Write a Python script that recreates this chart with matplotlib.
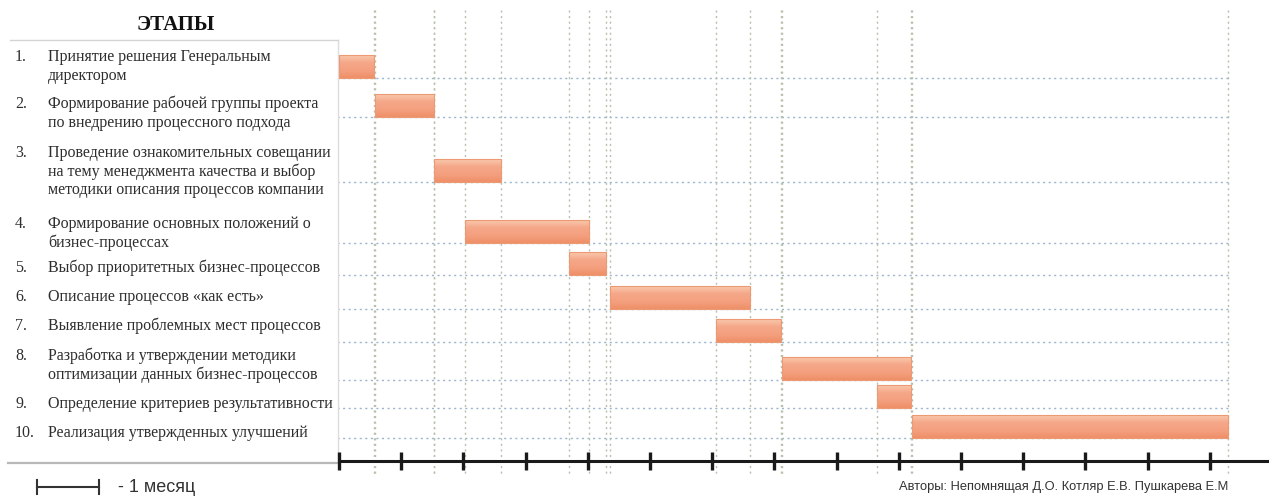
import numpy as np
import matplotlib.pyplot as plt

# --- data -------------------------------------------------------------
title = "ЭТАПЫ"
stage_nums = ["1.", "2.", "3.", "4.", "5.", "6.", "7.", "8.", "9.", "10."]
stage_labels = [
    "Принятие решения Генеральным\nдиректором",
    "Формирование рабочей группы проекта\nпо внедрению процессного подхода",
    "Проведение ознакомительных совещании\nна тему менеджмента качества и выбор\nметодики описания процессов компании",
    "Формирование основных положений о\nбизнес-процессах",
    "Выбор приоритетных бизнес-процессов",
    "Описание процессов «как есть»",
    "Выявление проблемных мест процессов",
    "Разработка и утверждении методики\nоптимизации данных бизнес-процессов",
    "Определение критериев результативности",
    "Реализация утвержденных улучшений",
]
# start / end of each stage, in months from project start
start_month = [0.0, 0.58, 1.52, 2.02, 3.70, 4.36, 6.06, 7.12, 8.65, 9.22]
end_month = [0.57, 1.53, 2.60, 4.02, 4.30, 6.60, 7.10, 9.20, 9.20, 14.30]
n_months = 14
scale_label = "- 1 месяц"
authors = "Авторы: Непомнящая Д.О. Котляр Е.В. Пушкарева Е.М"

# --- layout (pixels) --------------------------------------------------
W, H = 1269, 499
X0 = 339            # pixel of month 0
PX_PER_MONTH = 62.2
row_bottom = [78, 117, 182, 243, 275, 309, 342, 380, 408, 438]
text_top = [57, 104, 153, 224, 268, 297, 326, 356, 404, 433]
line_step = 18.5
bar_h = 23
axis_y = 461

serif = "Liberation Serif"
sans = "Liberation Sans"
txt_col = "#2e2e2e"

fig = plt.figure(figsize=(W / 100, H / 100), dpi=100)
fig.patch.set_facecolor("white")

# left table / free layout in pixel coords
axL = fig.add_axes([0, 0, 1, 1])
axL.set_xlim(0, W)
axL.set_ylim(H, 0)
axL.axis("off")

axL.text(176, 25, title, family=serif, fontsize=15, fontweight="bold",
         ha="center", va="center", color="#111111")
axL.plot([10, 338], [40, 40], color="#d4d4d4", lw=1)
axL.plot([338, 338], [40, 462], color="#dcdcdc", lw=1)
axL.plot([8, 339], [462.5, 462.5], color="#b8b8b8", lw=1.6)

for num, lab, y0 in zip(stage_nums, stage_labels, text_top):
    axL.text(15, y0, num, family=serif, fontsize=11.5, ha="left",
             va="center", color=txt_col)
    for i, line in enumerate(lab.split("\n")):
        axL.text(48, y0 + i * line_step, line, family=serif, fontsize=11.5,
                 ha="left", va="center", color=txt_col)

# scale bar for one month
axL.plot([37, 37 + PX_PER_MONTH], [487, 487], color="#333333", lw=1.5)
for xe in (37, 37 + PX_PER_MONTH):
    axL.plot([xe, xe], [480, 494], color="#333333", lw=1.5)
axL.text(118, 487, scale_label, family=sans, fontsize=13, ha="left",
         va="center", color="#333333")
axL.text(1228, 487, authors, family=sans, fontsize=9.3, ha="right",
         va="center", color="#333333")

# gantt area, x in months
ax = fig.add_axes([X0 / W, 0, (W - X0) / W, 1])
ax.set_xlim(0, (W - X0) / PX_PER_MONTH)
ax.set_ylim(H, 0)
ax.axis("off")
ax.patch.set_alpha(0)

last = max(end_month)
ax.hlines(row_bottom, -0.03, last, colors="#9db4d0", lw=1,
          linestyles=(0, (1.5, 2.5)), zorder=1)
edges = sorted(set(start_month[1:] + end_month))
ax.vlines(edges, 10, 476, colors="#b7c0ac", lw=1,
          linestyles=(0, (1.5, 2.5)), zorder=1)

grad = np.linspace(0, 1, 50).reshape(-1, 1)
cmap = plt.matplotlib.colors.LinearSegmentedColormap.from_list(
    "bar", ["#f9c9ad", "#f5a788", "#f4a080", "#ef9068"])
for s, e, yb in zip(start_month, end_month, row_bottom):
    rect = plt.Rectangle((s, yb - bar_h), e - s, bar_h, facecolor="none",
                         edgecolor="#ec9a74", lw=0.8, zorder=3)
    ax.add_patch(rect)
    im = ax.imshow(grad, cmap=cmap, aspect="auto", origin="upper",
                   extent=[s, e, yb, yb - bar_h], zorder=2)
    im.set_clip_path(rect)

# timeline
ax.plot([0, (W - X0) / PX_PER_MONTH], [axis_y, axis_y], color="#1a1a1a",
        lw=2.2, solid_capstyle="butt", zorder=4, clip_on=False)
ax.vlines(np.arange(n_months + 1), axis_y - 9, axis_y + 9, colors="#1a1a1a",
          lw=2.4, zorder=4, clip_on=False)

fig.savefig("out.png", dpi=100, facecolor="white")
